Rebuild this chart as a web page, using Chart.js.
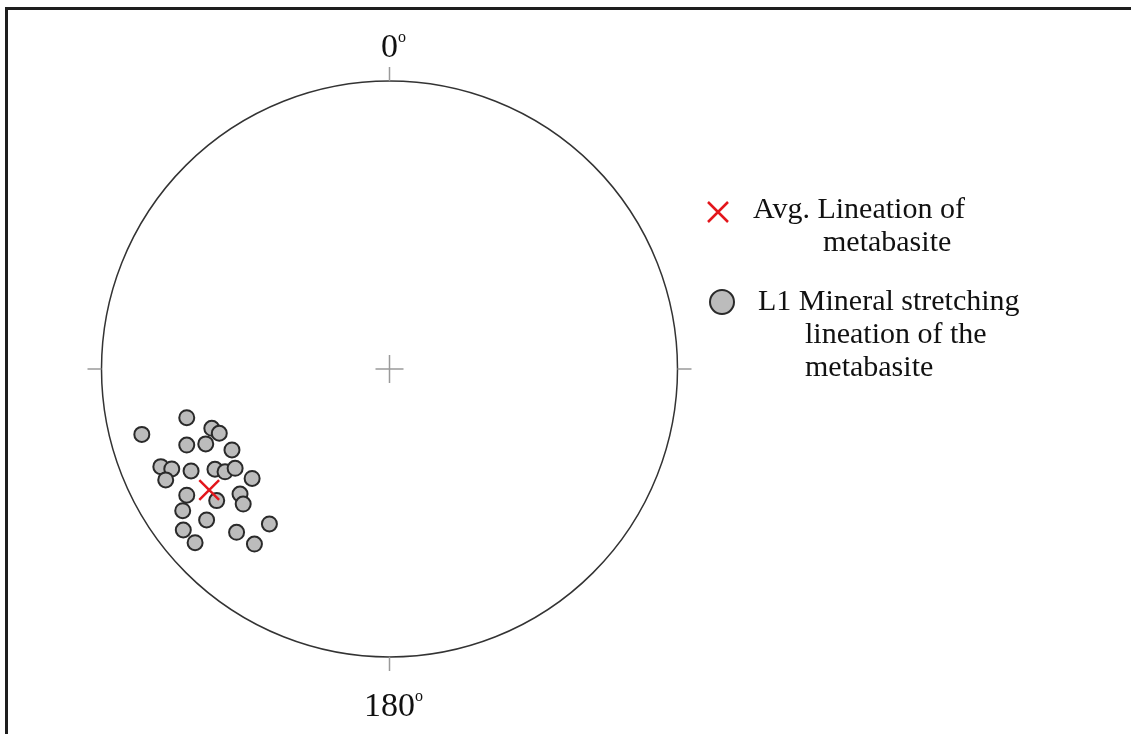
<!DOCTYPE html>
<html>
<head>
<meta charset="utf-8">
<script src="https://cdn.jsdelivr.net/npm/chart.js@4/dist/chart.umd.min.js"></script>
<style>
html,body{margin:0;padding:0;background:#fff;}
#wrap{width:1131px;height:734px;position:relative;}
</style>
</head>
<body>
<div id="wrap"><canvas id="c"></canvas></div>
<script>
// Stereonet data: normalized projected coordinates (x = East, y = North, unit = primitive circle radius)
const lineationX = [-0.860,-0.704,-0.617,-0.591,-0.704,-0.638,-0.547,-0.794,-0.756,-0.777,-0.689,-0.606,-0.571,-0.536,-0.477,-0.704,-0.600,-0.519,-0.508,-0.718,-0.635,-0.417,-0.716,-0.675,-0.531,-0.469];
const lineationY = [-0.227,-0.169,-0.206,-0.223,-0.264,-0.260,-0.281,-0.339,-0.347,-0.385,-0.354,-0.348,-0.357,-0.345,-0.380,-0.438,-0.457,-0.434,-0.469,-0.492,-0.524,-0.538,-0.559,-0.603,-0.567,-0.608];
const avgX = [-0.626];
const avgY = [-0.420];
const directionLabels = ['0', '180'];
const legendAvg = ['Avg. Lineation of', 'metabasite'];
const legendL1 = ['L1 Mineral stretching', 'lineation of the', 'metabasite'];

const lineationPts = lineationX.map((x, i) => ({x: x, y: lineationY[i]}));
const avgPts = avgX.map((x, i) => ({x: x, y: avgY[i]}));

const FONT = '"Liberation Serif", "Times New Roman", serif';

const netPlugin = {
  id: 'net',
  beforeDatasetsDraw(chart) {
    const ctx = chart.ctx;
    const xs = chart.scales.x, ys = chart.scales.y;
    const cx = xs.getPixelForValue(0), cy = ys.getPixelForValue(0);
    const r = xs.getPixelForValue(1) - cx;
    ctx.save();
    // frame
    ctx.strokeStyle = '#1e1e1e';
    ctx.lineWidth = 3;
    ctx.beginPath();
    ctx.moveTo(6.5, 740);
    ctx.lineTo(6.5, 8.5);
    ctx.lineTo(1140, 8.5);
    ctx.stroke();
    // primitive circle
    ctx.strokeStyle = '#333';
    ctx.lineWidth = 1.5;
    ctx.beginPath();
    ctx.arc(cx, cy, r, 0, Math.PI * 2);
    ctx.stroke();
    // ticks & centre cross
    ctx.strokeStyle = '#9a9a9a';
    ctx.lineWidth = 1.5;
    const t = 14;
    ctx.beginPath();
    ctx.moveTo(cx, cy - r); ctx.lineTo(cx, cy - r - t);
    ctx.moveTo(cx, cy + r); ctx.lineTo(cx, cy + r + t);
    ctx.moveTo(cx - r, cy); ctx.lineTo(cx - r - t, cy);
    ctx.moveTo(cx + r, cy); ctx.lineTo(cx + r + t, cy);
    ctx.moveTo(cx - 14, cy); ctx.lineTo(cx + 14, cy);
    ctx.moveTo(cx, cy - 14); ctx.lineTo(cx, cy + 14);
    ctx.stroke();
    // direction labels
    ctx.fillStyle = '#111';
    ctx.textBaseline = 'alphabetic';
    const drawDeg = (txt, baseY) => {
      ctx.font = '34px ' + FONT;
      const w = ctx.measureText(txt).width;
      ctx.textAlign = 'left';
      const x0 = cx - w / 2;
      ctx.fillText(txt, x0, baseY);
      ctx.font = '16px ' + FONT;
      ctx.fillText('o', x0 + w, baseY - 15);
    };
    drawDeg(directionLabels[0], cy - r - 24);
    drawDeg(directionLabels[1], cy + r + 59);
    ctx.restore();
  },
  afterDraw(chart) {
    const ctx = chart.ctx;
    ctx.save();
    // legend: X marker
    ctx.strokeStyle = '#e3161c';
    ctx.lineWidth = 2.5;
    ctx.beginPath();
    ctx.moveTo(708, 202); ctx.lineTo(728, 222);
    ctx.moveTo(728, 202); ctx.lineTo(708, 222);
    ctx.stroke();
    // legend: circle marker
    ctx.fillStyle = '#bcbcbc';
    ctx.strokeStyle = '#2a2a2a';
    ctx.lineWidth = 2;
    ctx.beginPath();
    ctx.arc(722, 302, 12, 0, Math.PI * 2);
    ctx.fill();
    ctx.stroke();
    ctx.fillStyle = '#111';
    ctx.font = '30px ' + FONT;
    ctx.textAlign = 'left';
    ctx.textBaseline = 'alphabetic';
    ctx.fillText(legendAvg[0], 753, 218);
    ctx.fillText(legendAvg[1], 823, 251);
    ctx.fillText(legendL1[0], 758, 310);
    ctx.fillText(legendL1[1], 805, 343);
    ctx.fillText(legendL1[2], 805, 376);
    ctx.restore();
  }
};

new Chart(document.getElementById('c'), {
  type: 'scatter',
  data: {
    datasets: [
      {
        label: legendAvg.join(' '),
        data: avgPts,
        pointStyle: 'crossRot',
        pointRadius: 14,
        borderColor: '#e3161c',
        backgroundColor: '#e3161c',
        borderWidth: 2.5,
        clip: false
      },
      {
        label: legendL1.join(' '),
        data: lineationPts,
        pointStyle: 'circle',
        pointRadius: 7.5,
        backgroundColor: '#bcbcbc',
        borderColor: '#2a2a2a',
        borderWidth: 2,
        clip: false
      }
    ]
  },
  options: {
    responsive: true,
    maintainAspectRatio: false,
    animation: false,
    layout: { padding: { left: 101.5, right: 453.5, top: 81, bottom: 77 } },
    scales: {
      x: { type: 'linear', min: -1, max: 1, display: false },
      y: { type: 'linear', min: -1, max: 1, display: false }
    },
    plugins: {
      legend: { display: false },
      tooltip: { enabled: false }
    }
  },
  plugins: [netPlugin]
});
</script>
</body>
</html>
